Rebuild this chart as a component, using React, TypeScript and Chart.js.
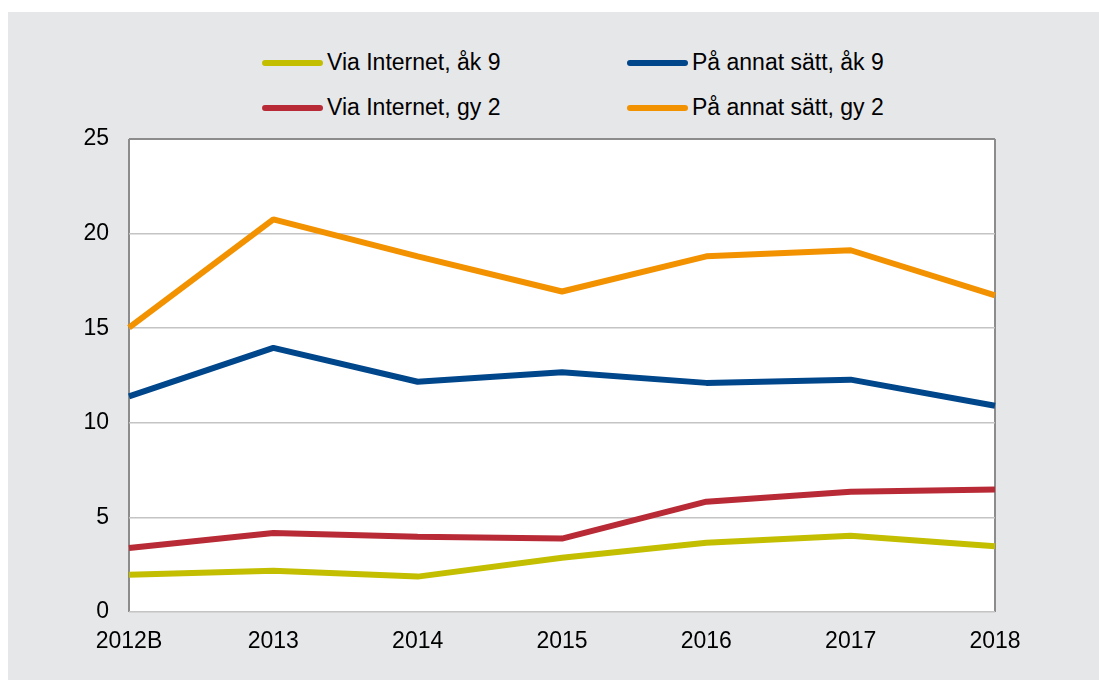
import React, { useEffect, useRef } from 'react';
import { Chart, registerables } from 'chart.js';

Chart.register(...registerables);

const categories = ['2012B', '2013', '2014', '2015', '2016', '2017', '2018'];
const viaInternetAk9 = [1.97, 2.18, 1.87, 2.87, 3.66, 4.03, 3.47];
const annatSattAk9 = [11.4, 13.96, 12.17, 12.67, 12.11, 12.28, 10.9];
const viaInternetGy2 = [3.38, 4.18, 3.98, 3.88, 5.83, 6.36, 6.47];
const annatSattGy2 = [15.03, 20.75, 18.8, 16.94, 18.8, 19.12, 16.73];
const seriesLabels = ['Via Internet, åk 9', 'På annat sätt, åk 9', 'Via Internet, gy 2', 'På annat sätt, gy 2'];
const seriesColors = ['#c3bf00', '#00468b', '#b82a35', '#f39200'];
const yMin = 0;
const yMax = 25;
const yStep = 5;

const FONT = 'Arial, "Liberation Sans", Helvetica, sans-serif';
const CANVAS_W = 1091;
const CANVAS_H = 668;

const plotBg = {
  id: 'plotBg',
  beforeDraw(chart: any) {
    const { ctx, chartArea } = chart;
    if (!chartArea) return;
    ctx.save();
    ctx.fillStyle = '#ffffff';
    ctx.fillRect(chartArea.left, chartArea.top, chartArea.right - chartArea.left, chartArea.bottom - chartArea.top);
    ctx.restore();
  },
};

export default function App() {
  const ref = useRef<HTMLCanvasElement | null>(null);

  useEffect(() => {
    if (!ref.current) return;
    const allSeries = [viaInternetAk9, annatSattAk9, viaInternetGy2, annatSattGy2];
    const chart = new Chart(ref.current, {
      type: 'line',
      data: {
        labels: categories,
        datasets: allSeries.map((d, i) => ({
          label: seriesLabels[i],
          data: d,
          borderColor: seriesColors[i],
          backgroundColor: seriesColors[i],
          borderWidth: 6,
          pointRadius: 0,
          pointHoverRadius: 0,
          tension: 0,
          fill: false,
          borderJoinStyle: 'bevel' as const,
        })),
      },
      options: {
        animation: false,
        responsive: false,
        layout: { padding: { top: 127, right: 104, left: 0, bottom: 0 } },
        plugins: { legend: { display: false }, tooltip: { enabled: false } },
        scales: {
          x: {
            type: 'category',
            offset: false,
            grid: {
              color: (c: any) =>
                c.index === 0 || c.index === categories.length - 1 ? '#8c8c8c' : 'rgba(0,0,0,0)',
              lineWidth: 2,
              drawTicks: false,
            },
            border: { display: false },
            ticks: {
              color: '#000000',
              font: { family: FONT, size: 23 },
              padding: 16,
              maxRotation: 0,
              autoSkip: false,
            },
            afterFit: (s: any) => {
              s.height = 68;
            },
          },
          y: {
            min: yMin,
            max: yMax,
            ticks: {
              stepSize: yStep,
              color: '#000000',
              font: { family: FONT, size: 23 },
              padding: 20,
            },
            grid: {
              color: (c: any) => (c.tick && c.tick.value === yMax ? '#8c8c8c' : '#c4c4c4'),
              lineWidth: (c: any) => (c.tick && c.tick.value === yMax ? 2 : 1.5),
              drawTicks: false,
            },
            border: { display: false },
            afterFit: (s: any) => {
              s.width = 121;
            },
          },
        },
      },
      plugins: [plotBg],
    });
    return () => chart.destroy();
  }, []);

  return (
    <div
      style={{
        position: 'fixed',
        left: 8,
        top: 12,
        right: 0,
        bottom: 0,
        background: '#e6e7e9',
        overflow: 'hidden',
      }}
    >
      {seriesLabels.map((label, i) => {
        const col = i % 2;
        const row = Math.floor(i / 2);
        const lineLeft = col === 0 ? 254 : 619;
        const centerY = row === 0 ? 50.7 : 96.3;
        return (
          <div
            key={label}
            style={{
              position: 'absolute',
              left: lineLeft,
              top: centerY - 15,
              height: 30,
              display: 'flex',
              alignItems: 'center',
              whiteSpace: 'nowrap',
            }}
          >
            <span
              style={{
                display: 'inline-block',
                width: 61,
                height: 6,
                borderRadius: 3,
                background: seriesColors[i],
              }}
            />
            <span
              style={{
                marginLeft: 4,
                fontFamily: FONT,
                fontSize: 23,
                lineHeight: '30px',
                color: '#000',
                position: 'relative',
                top: -1,
              }}
            >
              {label}
            </span>
          </div>
        );
      })}
      <canvas
        ref={ref}
        width={CANVAS_W}
        height={CANVAS_H}
        style={{ position: 'absolute', left: 0, top: 0, width: CANVAS_W, height: CANVAS_H }}
      />
    </div>
  );
}
